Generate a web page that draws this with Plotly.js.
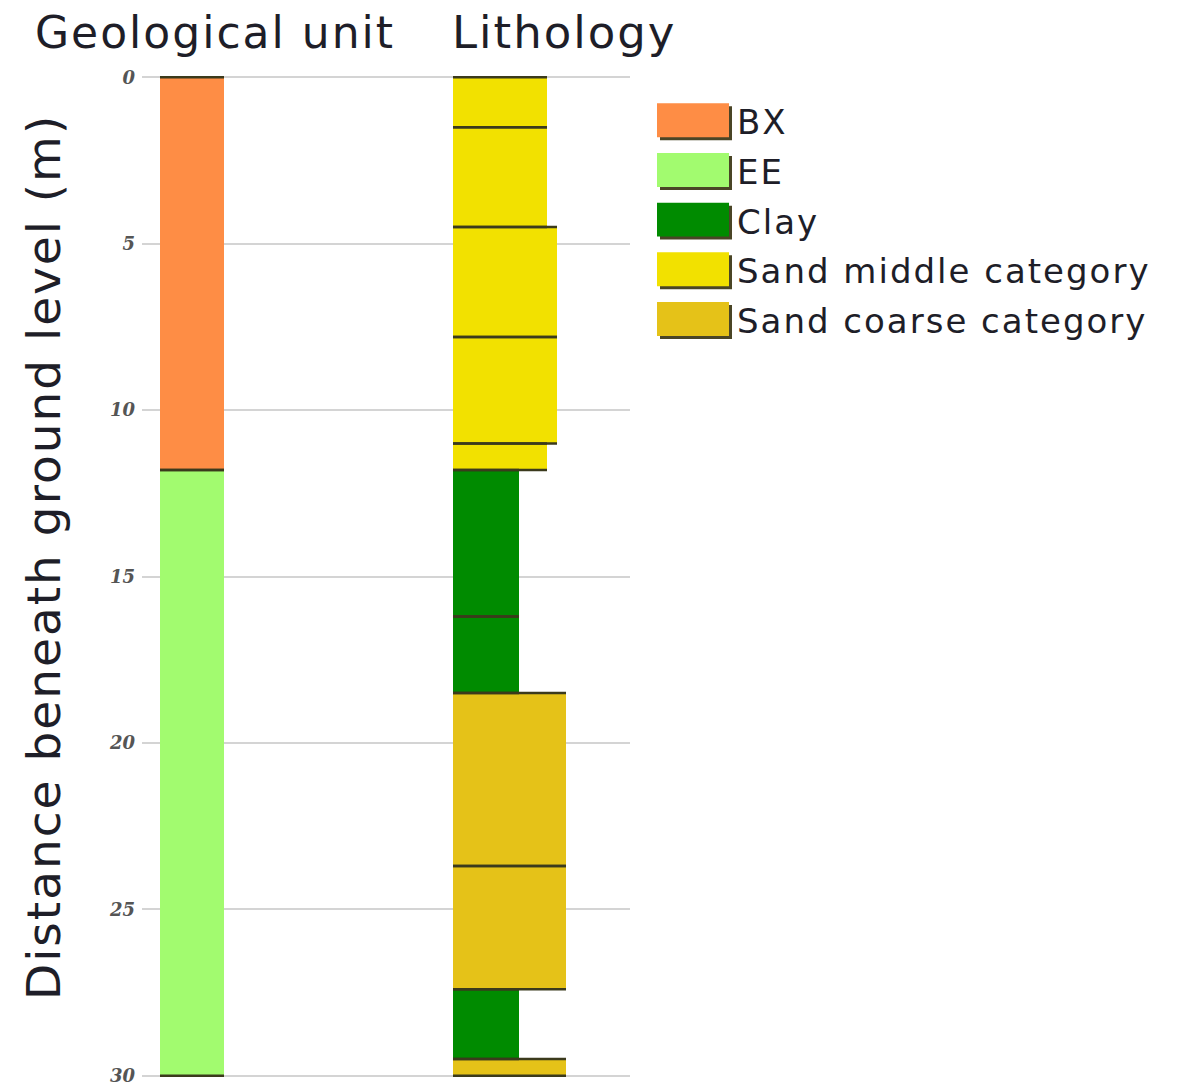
<!DOCTYPE html>
<html>
<head>
<meta charset="utf-8">
<script src="https://cdn.plot.ly/plotly-3.0.1.min.js"></script>
<style>html,body{margin:0;padding:0;background:#fff;}#chart{width:1179px;height:1087px;}
#chart .annotation-text{letter-spacing:2px;}</style>
</head>
<body>
<div id="chart"></div>
<script>
// ---------- data ----------
const geoUnits = ['BX', 'EE'];
const geoTop = [0, 11.8];
const geoBottom = [11.8, 30];

const lithTypes = ['Sand middle category', 'Sand middle category', 'Sand middle category', 'Sand middle category', 'Sand middle category',
                   'Clay', 'Clay', 'Sand coarse category', 'Sand coarse category', 'Clay', 'Sand coarse category'];
const lithTop =    [0, 1.5, 4.5, 7.8, 11.0, 11.8, 16.2, 18.5, 23.7, 27.4, 29.5];
const lithBottom = [1.5, 4.5, 7.8, 11.0, 11.8, 16.2, 18.5, 23.7, 27.4, 29.5, 30];
// relative grain-size index of each layer (drawn as column width)
const lithGrain =  [94, 94, 104, 104, 94, 66, 66, 113, 113, 66, 113];

const legendNames = ['BX', 'EE', 'Clay', 'Sand middle category', 'Sand coarse category'];
const depthTicks = [0, 5, 10, 15, 20, 25, 30];

// ---------- styles ----------
const colors = {
  'BX': '#fe8d45',
  'EE': '#a2fb6f',
  'Clay': '#008b00',
  'Sand middle category': '#f2e100',
  'Sand coarse category': '#e5c218'
};
const L = 142, W = 488, T0 = 77, H0 = 999;
const padM = 0.1;
const pxPerM = H0 / 30;
const T = T0 - padM * pxPerM, H = H0 + 2 * padM * pxPerM;
const geoCenter = 50, geoWidth = 64;
const lithLeft = 311;
const edgeColor = '#3b3a1c';

const traces = [];
geoUnits.forEach((u, i) => {
  traces.push({
    type: 'bar', x: [geoCenter], width: [geoWidth], base: [geoTop[i]],
    y: [geoBottom[i] - geoTop[i]], marker: {color: colors[u], line: {width: 0}},
    showlegend: false, hoverinfo: 'skip'
  });
});
lithTypes.forEach((t, i) => {
  traces.push({
    type: 'bar', x: [lithLeft + lithGrain[i] / 2], width: [lithGrain[i]], base: [lithTop[i]],
    y: [lithBottom[i] - lithTop[i]], marker: {color: colors[t], line: {width: 0}},
    showlegend: false, hoverinfo: 'skip'
  });
});
const bx = [], by = [];
geoUnits.forEach((u, i) => {
  [geoTop[i], geoBottom[i]].forEach(d => {
    bx.push(geoCenter - geoWidth / 2, geoCenter + geoWidth / 2, null);
    by.push(d, d, null);
  });
});
lithTypes.forEach((t, i) => {
  [lithTop[i], lithBottom[i]].forEach(d => {
    bx.push(lithLeft, lithLeft + lithGrain[i], null);
    by.push(d, d, null);
  });
});
traces.push({type: 'scatter', mode: 'lines', x: bx, y: by, line: {color: edgeColor, width: 2.5},
  showlegend: false, hoverinfo: 'skip', connectgaps: false});

// ---------- custom legend ----------
const px = v => (v - L) / W;
const py = v => 1 - (v - T) / H;
const shapes = [], annotations = [];
legendNames.forEach((n, i) => {
  const c = 121 + i * 49.7;
  shapes.push({type: 'rect', xref: 'paper', yref: 'paper', x0: px(660), x1: px(732), y0: py(c - 15), y1: py(c + 19),
    fillcolor: '#4a4526', line: {width: 0}, layer: 'above'});
  shapes.push({type: 'rect', xref: 'paper', yref: 'paper', x0: px(657), x1: px(729), y0: py(c - 18), y1: py(c + 16),
    fillcolor: colors[n], line: {width: 0}, layer: 'above'});
  annotations.push({xref: 'paper', yref: 'paper', x: px(736), y: py(c + 1), xanchor: 'left', yanchor: 'middle',
    width: 440, align: 'left', borderpad: 0,
    text: n, showarrow: false, font: {family: 'DejaVu Sans', size: 34, color: '#1e1e28'}});
});
annotations.push({xref: 'paper', yref: 'paper', x: px(215), y: py(32), xanchor: 'center', yanchor: 'middle',
  text: 'Geological unit', showarrow: false, font: {family: 'DejaVu Sans', size: 44, color: '#1e1e28'}});
annotations.push({xref: 'paper', yref: 'paper', x: px(564), y: py(32), xanchor: 'center', yanchor: 'middle',
  text: 'Lithology', showarrow: false, font: {family: 'DejaVu Sans', size: 45, color: '#1e1e28'}});
annotations.push({xref: 'paper', yref: 'paper', x: px(43), y: py(557), xanchor: 'center', yanchor: 'middle',
  textangle: -90, text: 'Distance beneath ground level (m)', showarrow: false,
  font: {family: 'DejaVu Sans', size: 47, color: '#1e1e28'}});

const layout = {
  width: 1179, height: 1087,
  margin: {l: L, r: 1179 - L - W, t: T, b: 1087 - T - H, pad: 0},
  paper_bgcolor: '#ffffff', plot_bgcolor: '#ffffff',
  barmode: 'overlay', bargap: 0,
  showlegend: false,
  xaxis: {range: [0, W], showgrid: false, zeroline: false, showticklabels: false, showline: false, fixedrange: true},
  yaxis: {range: [30 + padM, -padM], tickvals: depthTicks, ticktext: depthTicks.map(String), showgrid: true,
    gridcolor: '#d4d4d4', gridwidth: 2, zeroline: false, showline: false, ticks: '',
    tickfont: {family: 'DejaVu Serif', size: 18, color: '#555555', weight: 'bold', style: 'italic'},
    ticklabelstandoff: 6, fixedrange: true},
  shapes: shapes, annotations: annotations
};
Plotly.newPlot('chart', traces, layout, {displayModeBar: false, staticPlot: true});
</script>
</body>
</html>
